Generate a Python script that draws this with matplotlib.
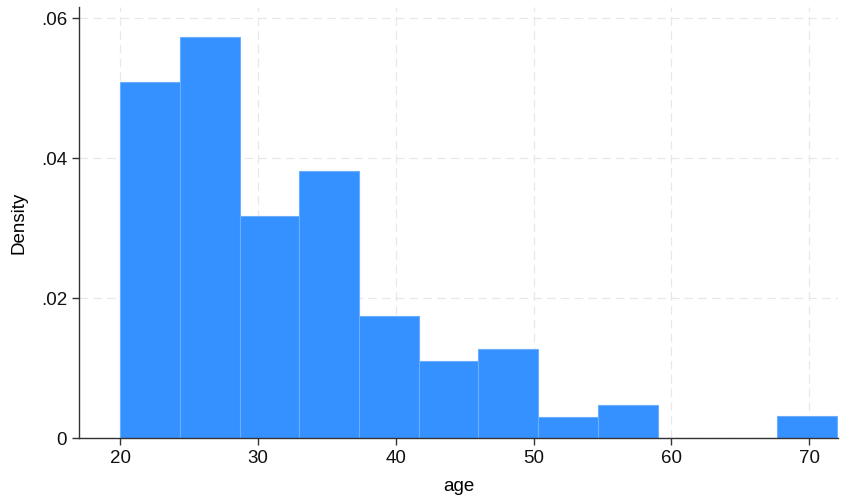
import matplotlib.pyplot as plt
import numpy as np

# histogram of age: 12 bins from 20 to 72, heights read as densities
bin_edges = np.linspace(20, 72, 13)
density = [0.0509, 0.0573, 0.0318, 0.0382, 0.0175, 0.0111,
           0.0127, 0.0031, 0.0048, 0.0, 0.0, 0.0032]
x_ticks = [20, 30, 40, 50, 60, 70]
y_ticks = [0, 0.02, 0.04, 0.06]
y_labels = ['0', '.02', '.04', '.06']

plt.rcParams['font.family'] = ['Liberation Sans', 'DejaVu Sans']

fig = plt.figure(figsize=(8.41, 5), dpi=100)
ax = fig.add_axes([79 / 841, 61.7 / 500, (838 - 79) / 841, (438.3 - 7) / 500])

widths = np.diff(bin_edges)
ax.bar(bin_edges[:-1], density, width=widths, align='edge',
       color='#3591ff', edgecolor='#6aaeff', linewidth=0.8, zorder=2)

ax.set_xlim(17.0, 72.1)
ax.set_ylim(0, 0.0616)
ax.set_xticks(x_ticks)
ax.set_yticks(y_ticks)
ax.set_yticklabels(y_labels)

ax.grid(True, linestyle=(0, (7, 4)), color='#e8e8e8', linewidth=0.9, zorder=0)
ax.set_axisbelow(True)

for s in ['top', 'right']:
    ax.spines[s].set_visible(False)
for s in ['left', 'bottom']:
    ax.spines[s].set_color('#333333')
    ax.spines[s].set_linewidth(1.0)

ax.tick_params(axis='both', length=5, width=1, color='#333333',
               labelsize=13.5, labelcolor='#111111')
ax.set_xlabel('age', fontsize=13.5, labelpad=8)
ax.set_ylabel('Density', fontsize=13.5, labelpad=10)

fig.savefig('out.png', dpi=100)
